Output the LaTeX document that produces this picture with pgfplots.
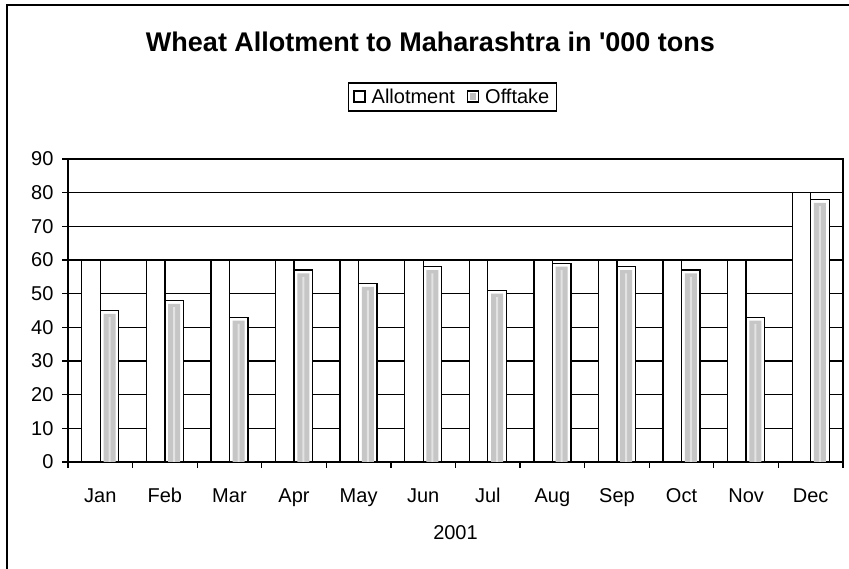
\documentclass[border=0pt]{standalone}
\usepackage{fontspec}
\setmainfont{Liberation Sans}
\usepackage{pgfplots}
\pgfplotsset{compat=1.18}
\begin{document}
\begin{tikzpicture}[x=1pt,y=1pt]
\useasboundingbox (0,0) rectangle (849,569);
\draw[line width=1.5pt] (7,-5) -- (7,564) -- (855,564);
\begin{axis}[
  at={(68pt,107pt)}, anchor=south west,
  scale only axis, width=775pt, height=303pt,
  xmin=-0.5, xmax=11.5, ymin=0, ymax=90,
  ytick={0,10,...,90},
  ymajorgrids, grid style={black, line width=1.3pt},
  xtick={0,...,11},
  xticklabels={Jan,Feb,Mar,Apr,May,Jun,Jul,Aug,Sep,Oct,Nov,Dec},
  major x tick style={draw=none},
  minor xtick={-0.5,0.5,...,11.5},
  tick pos=left,
  tick align=outside,
  major tick length=6pt, minor tick length=6pt,
  tick style={black, line width=1.3pt},
  axis line style={line width=1.3pt},
  /pgf/number format/assume math mode=true,
  tick label style={font=\fontsize{20}{24}\selectfont},
  yticklabel style={xshift=-5pt},
  xticklabel style={anchor=base, yshift=-35pt},
  xlabel={2001},
  xlabel style={font=\fontsize{20}{24}\selectfont, at={(axis description cs:0.5,0)}, anchor=base, yshift=-78pt},
  legend style={at={(0.496,1.2046)}, anchor=center, draw=black, line width=1.3pt,
    font=\fontsize{20}{24}\selectfont, legend columns=2,
    inner xsep=5pt, inner ysep=4pt,
    /tikz/every odd column/.append style={column sep=4pt},
    /tikz/every even column/.append style={column sep=10pt}},
  legend cell align=left,
  clip=false,
]
\addplot[ybar, bar width=18.5pt, bar shift=-9.25pt, draw=black, line width=1.3pt, fill=white,
  legend image code/.code={\draw[black,line width=1.2pt,fill=white] (0pt,-5pt) rectangle (11pt,6pt);}]
  coordinates {(0,60) (1,60) (2,60) (3,60) (4,60) (5,60) (6,60) (7,60) (8,60) (9,60) (10,60) (11,80)};
\addlegendentry{Allotment}
\addplot[ybar, bar width=18.5pt, bar shift=9.25pt, draw=black, line width=1.3pt, fill=white,
  legend image code/.code={\draw[black,line width=1.2pt,fill=white] (0pt,-5pt) rectangle (11pt,6pt);
    \fill[gray!50] (3pt,-2pt) rectangle (8pt,3pt);}]
  coordinates {(0,45) (1,48) (2,43) (3,57) (4,53) (5,58) (6,51) (7,59) (8,58) (9,57) (10,43) (11,78)};
\addlegendentry{Offtake}
\addplot[ybar, bar width=12pt, bar shift=9.25pt, draw=none, fill=gray!45, forget plot]
  coordinates {(0,44) (1,47) (2,42) (3,56) (4,52) (5,57) (6,50) (7,58) (8,57) (9,56) (10,42) (11,77)};
\addplot[ybar, bar width=2pt, bar shift=9.25pt, draw=none, fill=gray!22, forget plot]
  coordinates {(0,43) (1,46) (2,41) (3,55) (4,51) (5,56) (6,49) (7,57) (8,56) (9,55) (10,41) (11,76)};
\end{axis}
\node[font=\bfseries\fontsize{27}{32}\selectfont, anchor=base] at (430.5,517) {Wheat Allotment to Maharashtra in \textquotesingle 000 tons};
\end{tikzpicture}
\end{document}
